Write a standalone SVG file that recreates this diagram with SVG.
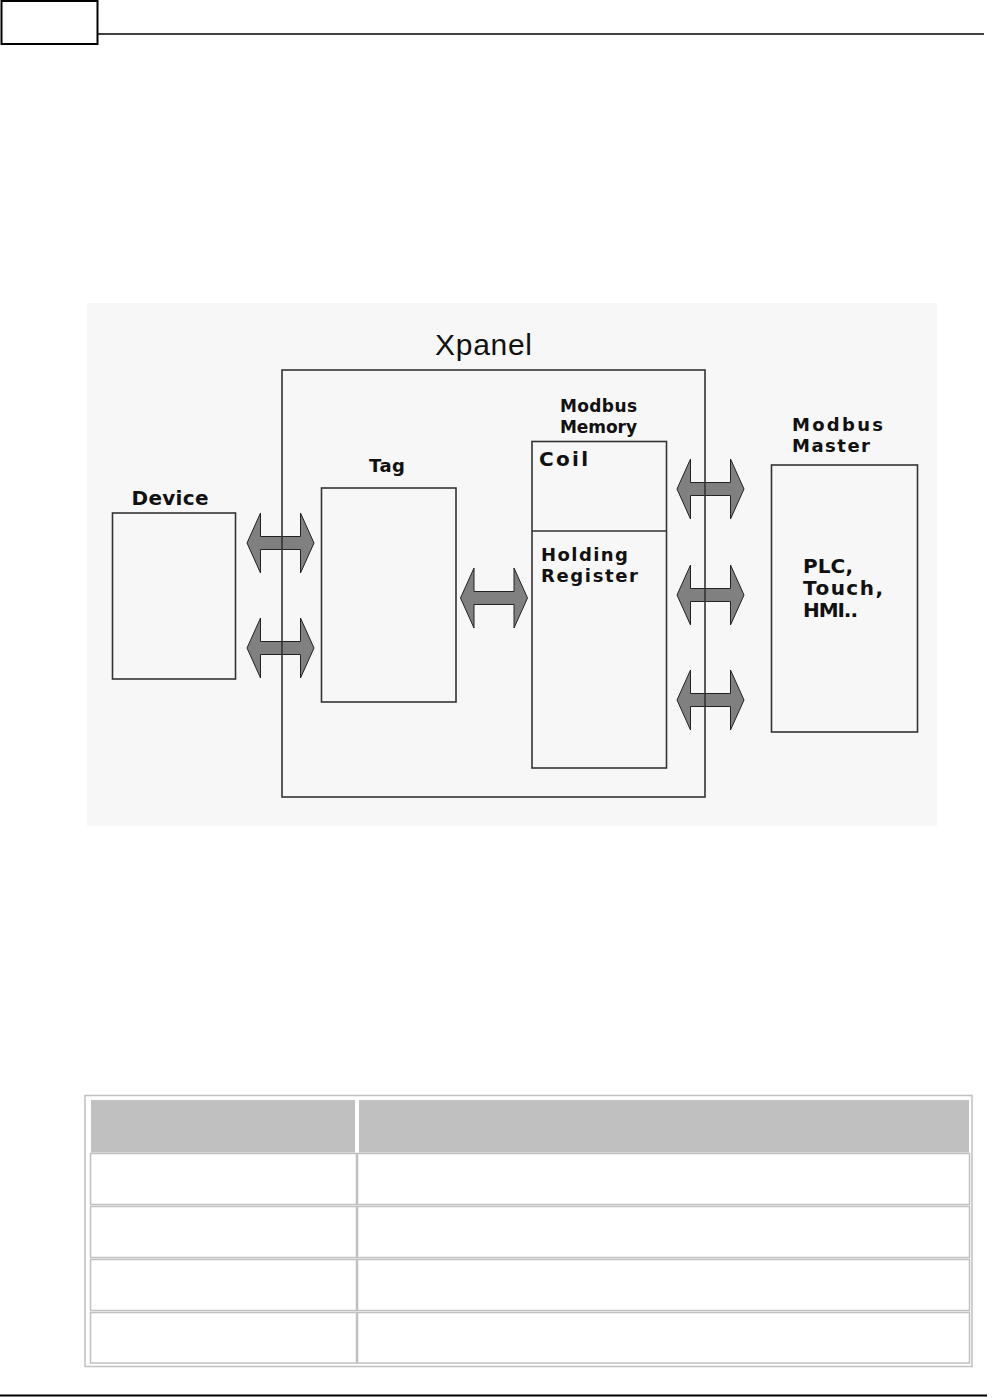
<svg xmlns="http://www.w3.org/2000/svg" width="999" height="1397" viewBox="0 0 999 1397">
<style>
.box{fill:none;stroke:#333;stroke-width:1.6}
.lbl{font-family:"DejaVu Sans","Liberation Sans",sans-serif;font-weight:bold;font-size:20px;fill:#111}
.two{font-size:18px}
.big{font-family:"Liberation Sans",Arial,sans-serif;font-size:30px;fill:#111}
.arr{fill:#808080;stroke:#222;stroke-width:1}
.cell{fill:#fff;stroke:#c0c0c0;stroke-width:1.5}
.hcell{fill:#c0c0c0;stroke:#fff;stroke-width:1}
</style>
<defs>
<path id="dbl" d="M -33.5,0 L -20,-30 L -20,-6.5 L 20,-6.5 L 20,-30 L 33.5,0 L 20,30 L 20,6.5 L -20,6.5 L -20,30 Z"/>
</defs>
<rect width="999" height="1397" fill="#fff"/>
<g id="page-header">
<rect x="1.5" y="1" width="96" height="43" fill="none" stroke="#000" stroke-width="2"/>
<line x1="97" y1="34" x2="984" y2="34" stroke="#000" stroke-width="1.6"/>
</g>
<rect id="diagram-bg" x="87" y="303" width="850" height="523" fill="#f7f7f7"/>
<g id="connectors">
<use href="#dbl" class="arr" transform="translate(280.5,543)"/>
<use href="#dbl" class="arr" transform="translate(280.5,648)"/>
<use href="#dbl" class="arr" transform="translate(494,598)"/>
<use href="#dbl" class="arr" transform="translate(710.5,489)"/>
<use href="#dbl" class="arr" transform="translate(710.5,595)"/>
<use href="#dbl" class="arr" transform="translate(710.5,700)"/>
</g>
<g id="xpanel">
<rect class="box" x="282" y="370" width="423" height="427"/>
<text class="big" x="435" y="355" textLength="97" lengthAdjust="spacing">Xpanel</text>
</g>
<g id="device">
<rect class="box" x="112.5" y="513" width="123" height="166"/>
<text class="lbl" x="131.5" y="505" textLength="77" lengthAdjust="spacing">Device</text>
</g>
<g id="tag">
<rect class="box" x="321.5" y="488" width="134.5" height="214"/>
<text class="lbl" style="font-size:18px" x="369" y="472" textLength="36" lengthAdjust="spacing">Tag</text>
</g>
<g id="modbus-memory">
<rect class="box" x="532" y="441.5" width="134.5" height="326.5"/>
<line class="box" x1="532" y1="531" x2="666.5" y2="531"/>
<text class="lbl" style="font-size:17px" x="560" y="412" textLength="77" lengthAdjust="spacing">Modbus</text>
<text class="lbl" style="font-size:17px" x="560" y="433" textLength="77" lengthAdjust="spacing">Memory</text>
<text class="lbl" x="539" y="466" textLength="49" lengthAdjust="spacing">Coil</text>
<text class="lbl two" x="541" y="561" textLength="87" lengthAdjust="spacing">Holding</text>
<text class="lbl two" x="541" y="582" textLength="97" lengthAdjust="spacing">Register</text>
</g>
<g id="modbus-master">
<rect class="box" x="771.5" y="465" width="146" height="267"/>
<text class="lbl two" x="792" y="431" textLength="91" lengthAdjust="spacing">Modbus</text>
<text class="lbl two" x="792" y="452" textLength="78" lengthAdjust="spacing">Master</text>
<text class="lbl" x="803" y="573" textLength="50" lengthAdjust="spacing">PLC,</text>
<text class="lbl" x="803" y="595" textLength="80" lengthAdjust="spacing">Touch,</text>
<text class="lbl" x="803" y="617" textLength="55" lengthAdjust="spacing">HMI..</text>
</g>
<g id="table">
<rect x="85" y="1095.5" width="887" height="271" fill="#fff" stroke="#c0c0c0" stroke-width="1.5"/>
<rect class="hcell" x="90.5" y="1099.5" width="265" height="53.5"/>
<rect class="hcell" x="358.5" y="1099.5" width="611" height="53.5"/>
<rect class="cell" x="90.5" y="1153.5" width="266" height="51"/>
<rect class="cell" x="357.5" y="1153.5" width="612" height="51"/>
<rect class="cell" x="90.5" y="1206.5" width="266" height="51"/>
<rect class="cell" x="357.5" y="1206.5" width="612" height="51"/>
<rect class="cell" x="90.5" y="1259.5" width="266" height="51"/>
<rect class="cell" x="357.5" y="1259.5" width="612" height="51"/>
<rect class="cell" x="90.5" y="1312.5" width="266" height="50.5"/>
<rect class="cell" x="357.5" y="1312.5" width="612" height="50.5"/>
</g>
<line id="page-footer" x1="0" y1="1395.5" x2="987" y2="1395.5" stroke="#000" stroke-width="2"/>
</svg>
